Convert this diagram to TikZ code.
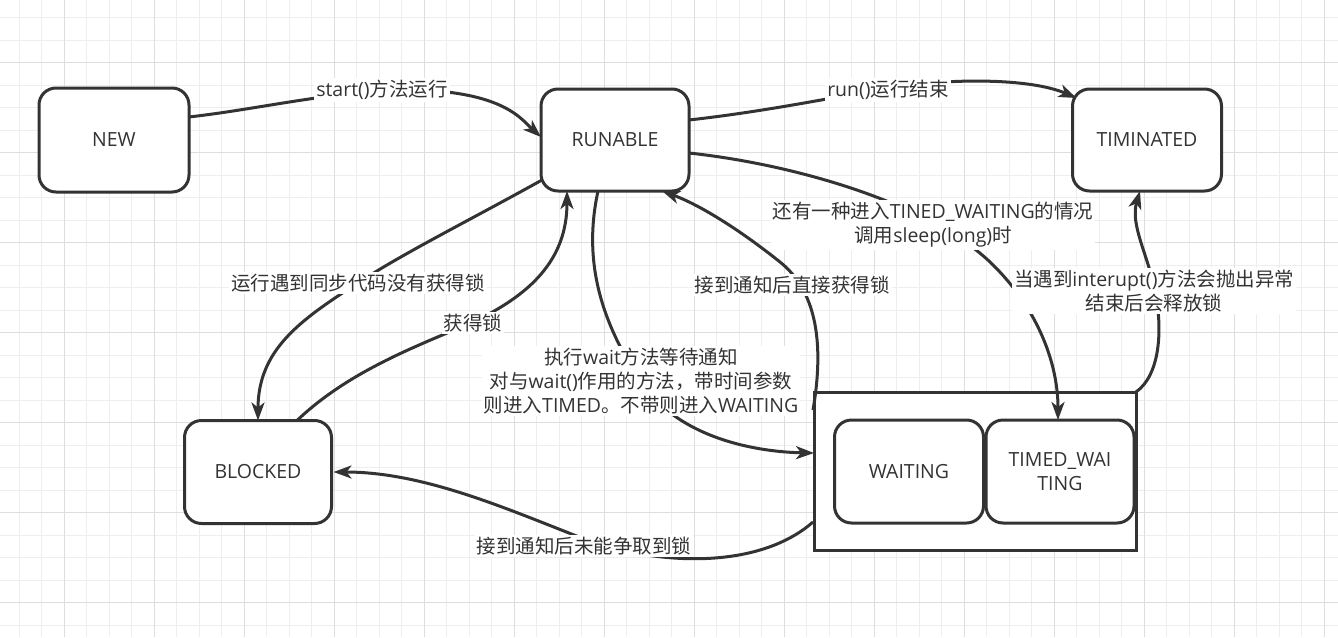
\documentclass[tikz,border=0pt]{standalone}
\usepackage{fontspec}
\setmainfont{Open Sans}
\newfontfamily\cjkfont{Noto Sans CJK SC}
\newcommand\zh[1]{{\cjkfont #1}}
\usetikzlibrary{arrows.meta,calc}
\definecolor{ink}{RGB}{51,51,51}
\definecolor{gridminor}{RGB}{238,238,238}
\definecolor{gridmajor}{RGB}{222,222,222}
\begin{document}
\begin{tikzpicture}[x=1pt,y=-1pt,
  font=\fontsize{19.5}{24}\selectfont,
  state/.style={draw=ink, line width=3pt, fill=white, rounded corners=17pt,
    text=ink, outer sep=0pt, inner sep=2pt, align=center},
  holder/.style={draw=ink, line width=3pt, fill=white, outer sep=0pt,
    minimum width=322pt, minimum height=158pt},
  conn/.style={draw=ink, line width=3pt,
    -{Stealth[length=18pt,width=13pt,inset=5pt]}},
  lbl/.style={fill=white, inner sep=2pt, align=center, text=ink},
  gminor/.style={draw=gridminor, line width=1pt},
  gmajor/.style={draw=gridmajor, line width=1pt}]
\fill[white] (0,0) rectangle (1338,637);
\useasboundingbox (0,0) rectangle (1338,637);
% grid
\foreach \i in {0,...,58} {\draw[gminor] (19+22.5*\i,0) -- (19+22.5*\i,637);}
\foreach \i in {0,...,28} {\draw[gminor] (0,17.5+22.5*\i) -- (1338,17.5+22.5*\i);}
\foreach \i in {0,...,14} {\draw[gmajor] (64+90*\i,0) -- (64+90*\i,637);}
\foreach \i in {0,...,6} {\draw[gmajor] (0,62.5+90*\i) -- (1338,62.5+90*\i);}
% states
\node[state, minimum width=150pt, minimum height=104pt] (new) at (114,140) {NEW};
\node[state, minimum width=148pt, minimum height=102pt] (run) at (615,140) {RUNABLE};
\node[state, minimum width=149pt, minimum height=102pt] (tim) at (1147,140) {TIMINATED};
\node[state, minimum width=147pt, minimum height=103pt] (blk) at (258,472) {BLOCKED};
\node[holder] (cont) at (975,471) {};
\node[state, minimum width=149pt, minimum height=103pt] (wait) at (909,471.5) {WAITING};
\node[state, minimum width=148pt, minimum height=103pt] (tw) at (1060,471.5) {TIMED\_WAI\\TING};
% connectors
\draw[conn] ($(new.east)+(0,-23)$) .. controls (250,110) and (300,98) .. (382,90)
  .. controls (500,86) and (520,118) .. ($(run.west)+(0,-3)$);
\draw[conn] ($(run.east)+(0,-20)$) .. controls (760,112) and (820,100) .. (888,88)
  .. controls (950,78) and (1030,78) .. ($(tim.north west)+(4,9)$);
\draw[conn] ($(run.east)+(0,13)$) .. controls (800,165) and (930,205) .. (990,262)
  .. controls (1035,305) and (1058,360) .. ($(tw.north)+(-2,0)$);
\draw[conn] (cont.north east) .. controls (1160,375) and (1163,330) .. (1155,291)
  .. controls (1148,255) and (1130,225) .. ($(tim.south)+(-7,0)$);
\draw[conn] ($(run.west)+(1,40)$) .. controls (470,220) and (400,255) .. (358,283)
  .. controls (300,320) and (258,350) .. (blk.north);
\draw[conn] ($(blk.north)+(39,0)$) .. controls (350,370) and (420,345) .. (473,322)
  .. controls (530,295) and (567,260) .. ($(run.south)+(-48,0)$);
\draw[conn] ($(run.south)+(-17,0)$) .. controls (583,260) and (600,320) .. (641,382)
  .. controls (680,440) and (760,452) .. ($(cont.west)+(0,-18)$);
\draw[conn] ($(cont.west)+(-1,-61)$) .. controls (825,340) and (815,290) .. (780,262)
  .. controls (740,230) and (700,205) .. ($(run.south)+(47,0)$);
\draw[conn] ($(cont.west)+(-1,51)$) .. controls (770,560) and (690,570) .. (600,545)
  .. controls (520,515) and (430,472) .. ($(blk.east)+(2,0)$);
% labels
\node[lbl] (l1) at (382,90) {start()\zh{方法运行}};
\node[lbl] (l2) at (888,90) {run()\zh{运行结束}};
\node[lbl] (l3) at (933,225) {\zh{还有一种进入}TINED\_WAITING\zh{的情况}\\\zh{调用}sleep(long)\zh{时}};
\node[lbl] (l4) at (1154,291) {\zh{当遇到}interupt()\zh{方法会抛出异常}\\\zh{结束后会释放锁}};
\node[lbl] (l5) at (358,283) {\zh{运行遇到同步代码没有获得锁}};
\node[lbl] (l6) at (473,323) {\zh{获得锁}};
\node[lbl] (l7) at (792,285) {\zh{接到通知后直接获得锁}};
\node[lbl] (l8) at (641,381) {\zh{执行}wait\zh{方法等待通知}\\\zh{对与}wait()\zh{作用的方法，带时间参数}\\\zh{则进入}TIMED\zh{。不带则进入}WAITING};
\node[lbl] (l9) at (584,546) {\zh{接到通知后未能争取到锁}};
\end{tikzpicture}
\end{document}
